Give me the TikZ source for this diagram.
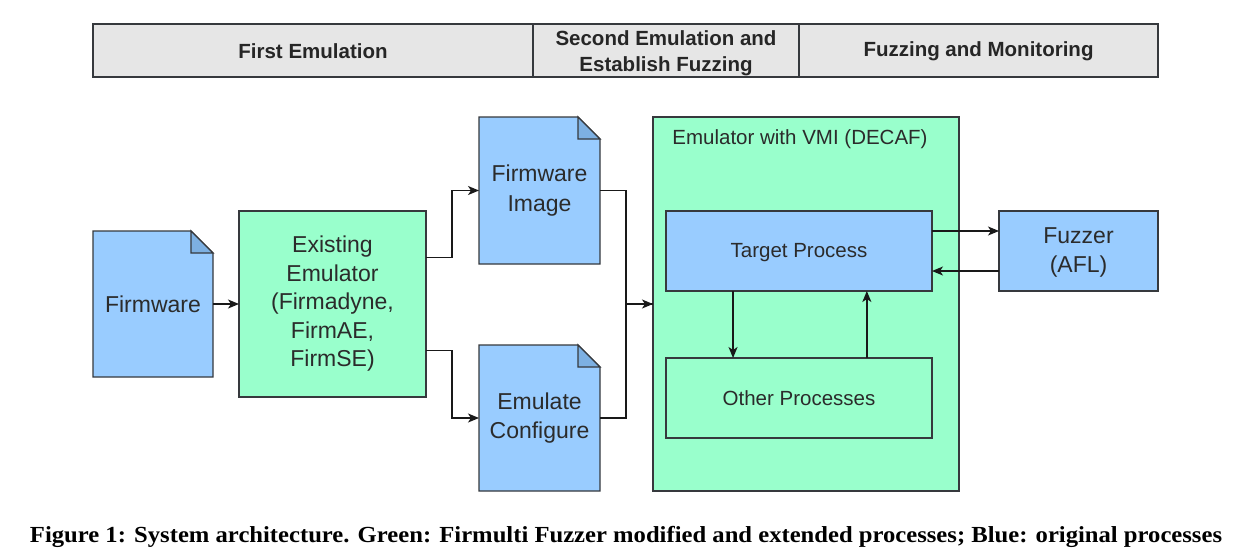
\documentclass[tikz,border=0pt]{standalone}
\usepackage{fontspec}
\setmainfont{Liberation Sans}
\newfontfamily\capfont{Liberation Serif}
\usetikzlibrary{arrows.meta,calc,backgrounds}
\definecolor{bluefill}{HTML}{99CCFF}
\definecolor{bluefold}{HTML}{7DB0E2}
\definecolor{greenfill}{HTML}{99FFCC}
\definecolor{headfill}{HTML}{E6E6E6}
\definecolor{strokec}{HTML}{36393D}
\definecolor{txt}{HTML}{2B2B2B}
\tikzset{
  box/.style={draw=strokec, line width=1.4pt, inner sep=0pt, outer sep=0pt, text=txt, align=center, font=\fontsize{23}{29}\selectfont},
  bluebox/.style={box, fill=bluefill},
  greenbox/.style={box, fill=greenfill},
  docbox/.style={inner sep=0pt, outer sep=0pt, text=txt, align=center, font=\fontsize{23}{29.5}\selectfont},
  innertext/.style={font=\fontsize{20.5}{25}\selectfont},
  headbox/.style={draw=strokec, line width=2.4pt, fill=headfill, inner sep=0pt, outer sep=0pt},
  headtext/.style={inner sep=0pt, align=center, font=\fontsize{20.5}{26}\selectfont\bfseries, text=black!85},
  plaintext/.style={inner sep=0pt, align=center, text=txt},
  arr/.style={draw=black!90, line width=1.5pt, -{Stealth[length=11pt,width=9pt,inset=3pt]}},
  conn/.style={draw=black!90, line width=1.5pt},
}
\newcommand{\mydocshape}[1]{%
  \filldraw[fill=bluefill, draw=strokec, line width=1.4pt, line join=miter]
    (#1.south west) -- (#1.north west) -- ([xshift=-22pt]#1.north east)
    -- ([yshift=-22pt]#1.north east) -- (#1.south east) -- cycle;
  \filldraw[fill=bluefold, draw=strokec, line width=1.4pt, line join=miter]
    ([xshift=-22pt]#1.north east) -- ([xshift=-22pt,yshift=-22pt]#1.north east)
    -- ([yshift=-22pt]#1.north east) -- cycle;}
\begin{document}
\begin{tikzpicture}[x=1pt,y=-1pt]
\begin{pgfonlayer}{background}
  \fill[white] (0,0) rectangle (1246,555);
\end{pgfonlayer}
\useasboundingbox (0,0) rectangle (1246,555);

% header
\node[headbox, minimum width=440pt, minimum height=53pt] (h1) at (313,50.5) {};
\node[headbox, minimum width=266pt, minimum height=53pt] (h2) at (666,50.5) {};
\node[headbox, minimum width=359pt, minimum height=53pt] (h3) at (978.5,50.5) {};
\node[headtext] (h1t) at ([yshift=-1pt]h1.center) {First Emulation};
\node[headtext] (h2t) at ([yshift=-2.5pt]h2.center) {Second Emulation and\\Establish Fuzzing};
\node[headtext] (h3t) at ([yshift=-1pt]h3.center) {Fuzzing and Monitoring};

% documents
\node[docbox, minimum width=120pt, minimum height=146pt] (fw) at (153,304) {Firmware};
\node[docbox, minimum width=121pt, minimum height=147pt] (img) at (539.5,190.5) {Firmware\\Image};
\node[docbox, minimum width=121pt, minimum height=146pt] (cfg) at (539.5,418) {Emulate\\Configure};
\begin{pgfonlayer}{background}
  \mydocshape{fw}
  \mydocshape{img}
  \mydocshape{cfg}
\end{pgfonlayer}

% emulator
\node[greenbox, minimum width=187pt, minimum height=186pt, font=\fontsize{23}{28.5}\selectfont] (emu) at (332.5,304) {Existing\\Emulator\\(Firmadyne,\\FirmAE,\\FirmSE)};

% VMI container
\node[greenbox, minimum width=306pt, minimum height=374pt] (vmi) at (806,304) {};
\node[innertext, plaintext] (vmil) at ([xshift=-6pt,yshift=-22pt]vmi.north) {Emulator with VMI (DECAF)};
\node[bluebox, minimum width=266pt, minimum height=80pt] (tp) at (799,251) {};
\node[plaintext, innertext] (tpt) at ([yshift=-1.5pt]tp.center) {Target Process};
\node[greenbox, innertext, minimum width=266pt, minimum height=80pt] (op) at (799,398) {Other Processes};
\node[bluebox, minimum width=159pt, minimum height=80pt] (fz) at (1078.5,251) {};
\node[plaintext, font=\fontsize{23}{29.5}\selectfont] (fzt) at ([yshift=-1.5pt]fz.center) {Fuzzer\\(AFL)};

% connectors
\draw[arr] (fw.east) -- (emu.west);
\draw[arr] ($(emu.north east)!0.25!(emu.south east)$) -- ++(26,0) |- (img.west);
\draw[arr] ($(emu.north east)!0.75!(emu.south east)$) -- ++(26,0) |- (cfg.west);
\draw[arr] (img.east) -- ++(26,0) |- (vmi.west);
\draw[conn] (cfg.east) -- ++(26,0) |- (vmi.west);

\coordinate (d1) at ($(tp.south west)!0.252!(tp.south east)$);
\coordinate (u1) at ($(op.north west)!0.755!(op.north east)$);
\draw[arr] (d1) -- (d1 |- op.north);
\draw[arr] (u1) -- (u1 |- tp.south);
\coordinate (r1) at ($(tp.north east)!0.25!(tp.south east)$);
\coordinate (r2) at ($(fz.north west)!0.75!(fz.south west)$);
\draw[arr] (r1) -- (r1 -| fz.west);
\draw[arr] (r2) -- (r2 -| tp.east);

% caption
\node[font=\capfont\bfseries\fontsize{23}{26}\selectfont, inner sep=0pt] (cap) at (626,537)
  {\resizebox{1192pt}{\height}{Figure 1: System architecture. Green: Firmulti Fuzzer modified and extended processes; Blue: original processes}};
\end{tikzpicture}
\end{document}
